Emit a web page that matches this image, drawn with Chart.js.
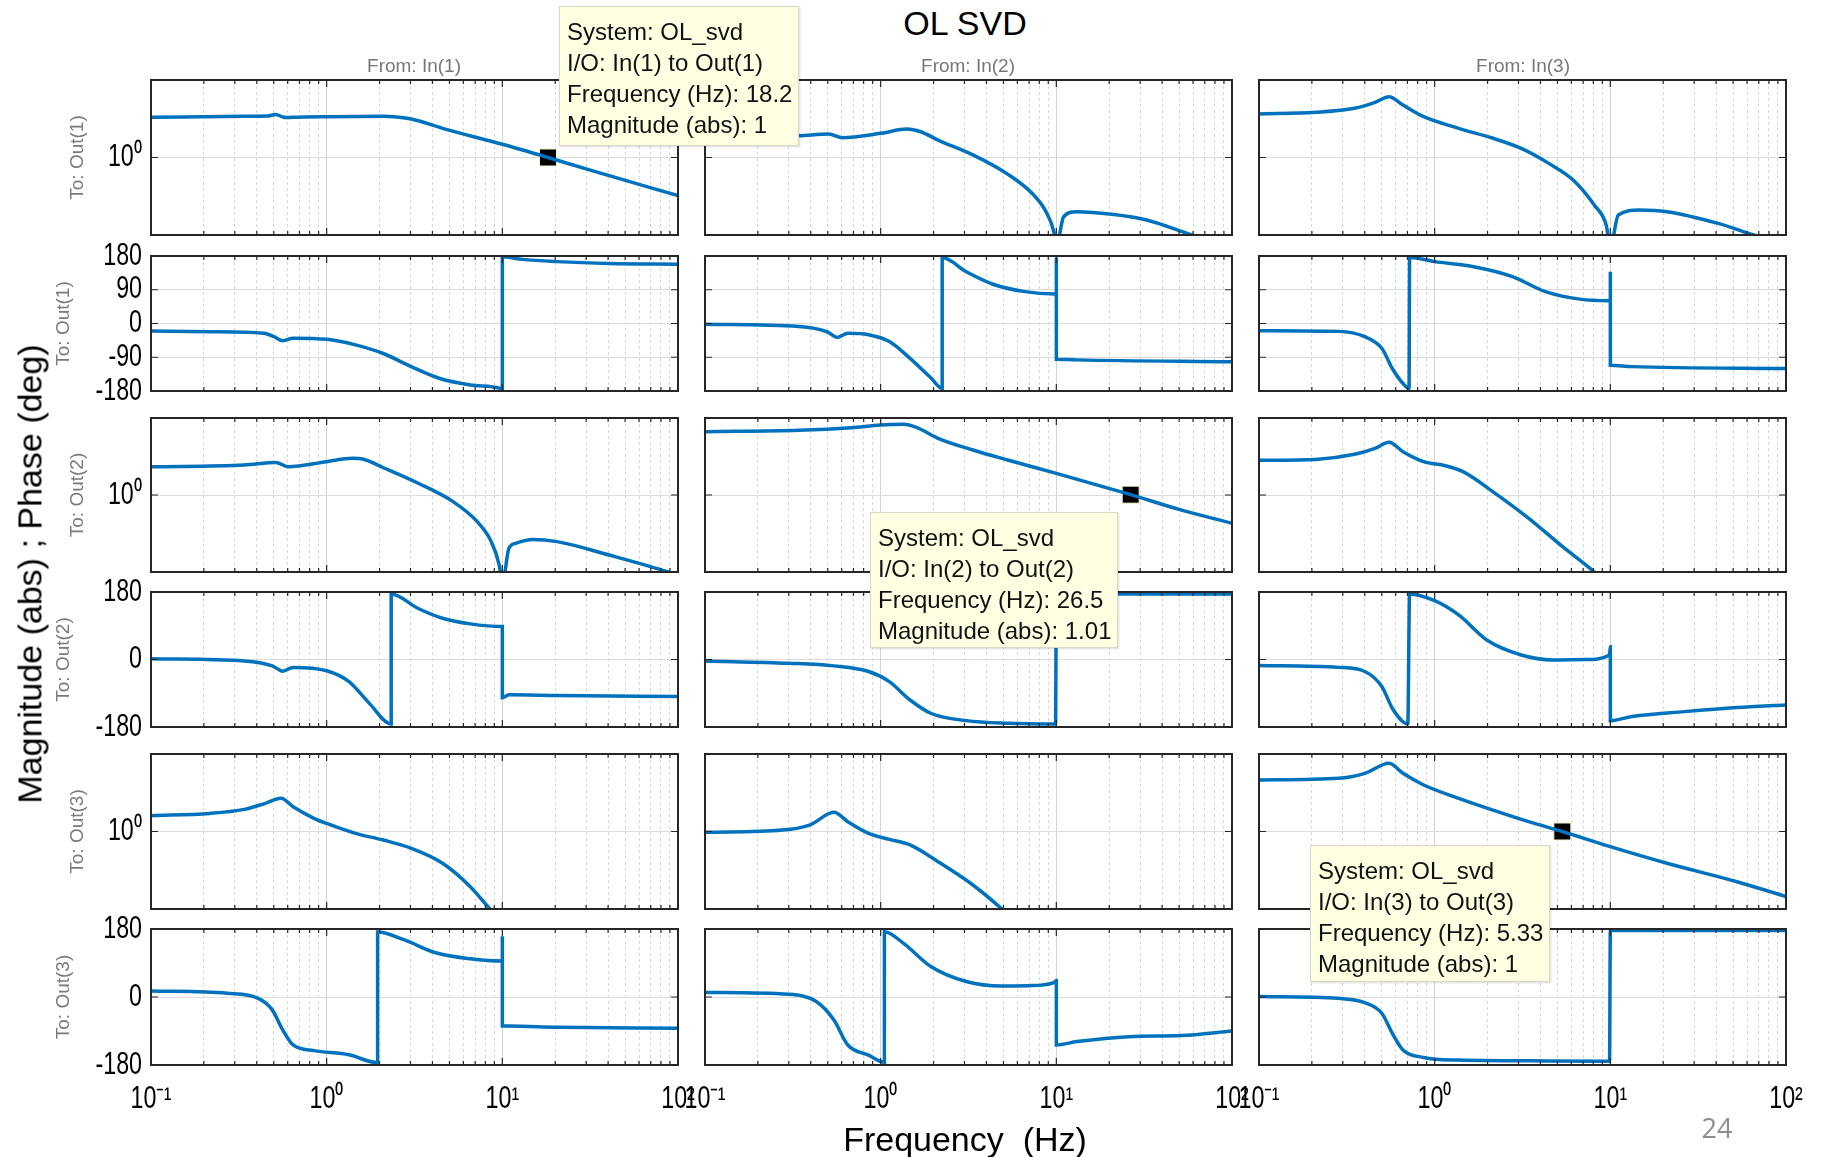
<!DOCTYPE html>
<html>
<head>
<meta charset="utf-8">
<script src="https://cdn.jsdelivr.net/npm/chart.js@4.4.1/dist/chart.umd.min.js"></script>
<style>
  body { margin: 0; background: #fff; }
  #fig { position: relative; width: 1826px; height: 1157px; overflow: hidden; background: #fff;
         font-family: 'Liberation Sans', Arial, sans-serif; }
  #fig canvas { position: absolute; }
  .txt { position: absolute; white-space: nowrap; transform: translate(-50%, -50%); z-index: 2; }
  .tip { position: absolute; z-index: 3; background: #ffffe1; border: 1px solid #d8d8c8;
         box-shadow: 1px 1px 2px rgba(0,0,0,0.15); font-size: 24px; line-height: 31px;
         padding: 9px 0 0 7px; box-sizing: border-box; color: #111; }
</style>
</head>
<body>
<div id="fig">
  <div class="txt" style="left:965px;top:23px;font-size:34px;">OL SVD</div>
  <div class="txt" style="left:414px;top:66px;font-size:19px;color:#777;">From: In(1)</div>
  <div class="txt" style="left:968px;top:66px;font-size:19px;color:#777;">From: In(2)</div>
  <div class="txt" style="left:1523px;top:66px;font-size:19px;color:#777;">From: In(3)</div>
  <div class="txt" style="left:30px;top:574px;font-size:34px;transform:translate(-50%,-50%) rotate(-90deg);">Magnitude (abs) ; Phase (deg)</div>
  <div class="txt" style="left:965px;top:1139px;font-size:34px;">Frequency&nbsp; (Hz)</div>
  <div class="txt" style="left:1717px;top:1127px;font-size:27px;color:#8c8c8c;font-family:'Open Sans',sans-serif;">24</div>
</div>
<script>
// frecuencias (Hz) y valores: mXY = magnitud Out(X)/In(Y), pXY = fase (grados)
const f11m = [0.1, 0.34, 0.46, 0.513, 0.56, 0.59, 0.64, 1, 2.1, 2.5, 3.03, 4.78, 10, 18.2, 32.4, 100];
const m11  = [3.30, 3.40, 3.42, 3.60, 3.35, 3.27, 3.30, 3.36, 3.40, 3.33, 3.14, 2.31, 1.48, 1.00, 0.676, 0.322];
const f11p = [0.1, 0.216, 0.437, 0.501, 0.562, 0.644, 1, 1.46, 2.1, 3.03, 4.36, 6.57, 9.7, 10, 10, 13, 20.5, 40.6, 100];
const p11  = [-20, -22, -26, -35, -46, -39, -42, -57, -80, -115, -146, -164, -173, -176, 178, 171, 165, 160, 158];

const f12m = [0.1, 0.343, 0.506, 0.606, 1, 1.41, 1.69, 2.12, 3.35, 5.28, 7.27, 8.73, 9.68, 10, 11, 13.1, 20.7, 32.7, 59.1, 100];
const m12  = [1.82, 1.91, 2.01, 1.80, 2.05, 2.33, 2.15, 1.68, 1.08, 0.61, 0.345, 0.20, 0.11, 0.07, 0.172, 0.20, 0.185, 0.156, 0.10, 0.07];
const f12p = [0.1, 0.343, 0.495, 0.567, 0.65, 0.854, 1.12, 1.47, 1.94, 2.24, 2.24, 3.07, 4.4, 6.64, 9.77, 10, 10, 10, 13.1, 100];
const p12  = [-2, -8, -22, -37, -26, -30, -48, -93, -146, -173, 176, 138, 104, 85, 79, 79, 176, -95, -97, -102];

const f13m = [0.1, 0.21, 0.35, 0.458, 0.55, 0.66, 0.866, 1.37, 2.15, 3.11, 4.46, 6.14, 8.1, 9.47, 10, 11.1, 14.6, 21, 41.6, 65.5, 100];
const m13  = [3.64, 3.83, 4.31, 5.15, 6.10, 4.75, 3.36, 2.38, 1.77, 1.31, 0.84, 0.513, 0.244, 0.135, 0.07, 0.181, 0.21, 0.20, 0.14, 0.10, 0.075];
const f13p = [0.1, 0.284, 0.4, 0.5, 0.574, 0.66, 0.715, 0.72, 1, 1.64, 2.77, 4.27, 6.7, 9.68, 10, 10, 10, 13.3, 100];
const p13  = [-19, -21, -35, -66, -120, -160, -173, 176, 165, 152, 125, 85, 65, 61, 61, 138, -111, -115, -120];

const f21m = [0.1, 0.34, 0.513, 0.601, 1, 1.4, 1.6, 2.1, 3.32, 5.24, 7.2, 8.65, 9.6, 10, 10.9, 11.9, 14.9, 20.5, 40.6, 88, 100];
const m21  = [2.33, 2.45, 2.65, 2.33, 2.71, 2.99, 2.93, 2.26, 1.42, 0.82, 0.45, 0.248, 0.123, 0.07, 0.203, 0.236, 0.265, 0.248, 0.166, 0.10, 0.09];
const f21p = [0.1, 0.34, 0.49, 0.562, 0.644, 1, 1.34, 1.75, 2.33, 2.33, 3.32, 4.57, 6.57, 10, 10, 10.9, 20.5, 100];
const p21  = [2, -4, -17, -31, -21, -30, -59, -117, -172, 175, 136, 110, 95, 88, -102, -94, -96, -99];

const f22m = [0.1, 0.343, 0.68, 1, 1.35, 1.61, 2.12, 3.35, 5.28, 10, 26.5, 51, 100];
const m22  = [6.64, 6.92, 7.48, 8.11, 8.27, 7.48, 5.45, 3.84, 2.85, 1.91, 1.01, 0.64, 0.43];
const f22p = [0.1, 0.3, 0.542, 0.854, 1.12, 1.47, 1.94, 3.07, 5.28, 9.9, 10, 20, 100];
const p22  = [-4, -10, -17, -32, -59, -108, -144, -163, -170, -172, 176, 175, 175];

const f23m = [0.1, 0.21, 0.35, 0.458, 0.55, 0.66, 0.866, 1.15, 1.45, 2.15, 3.43, 5.35, 8.1, 9];
const m23  = [2.82, 2.90, 3.38, 4.04, 4.83, 3.65, 2.71, 2.40, 2.01, 1.10, 0.498, 0.213, 0.10, 0.08];
const f23p = [0.1, 0.284, 0.4, 0.5, 0.574, 0.66, 0.703, 0.72, 1, 1.37, 1.98, 3.11, 4.7, 7.2, 9.9, 10, 10, 13.3, 26.4, 52.5, 100];
const p23  = [-16, -21, -32, -72, -130, -166, -172, 175, 157, 119, 52, 12, -1, 0, 12, 34, -163, -152, -139, -128, -121];

const f31m = [0.1, 0.216, 0.34, 0.448, 0.55, 0.644, 0.847, 1, 1.46, 2.1, 3.03, 4.57, 6.57, 8.45, 10];
const m31  = [1.60, 1.71, 1.93, 2.31, 2.68, 2.09, 1.48, 1.27, 0.946, 0.776, 0.607, 0.389, 0.194, 0.102, 0.07];
const f31p = [0.1, 0.271, 0.408, 0.49, 0.562, 0.644, 0.847, 1.34, 1.95, 1.95, 2.77, 4.17, 6.57, 10, 10, 10, 10.9, 20.5, 100];
const p31  = [16, 10, -3.5, -34, -87, -127, -142, -153, -174, 172, 151, 117, 101, 95, 161, -77, -77, -80, -83];

const f32m = [0.1, 0.276, 0.394, 0.542, 0.65, 0.854, 1.12, 1.47, 2.12, 3.35, 4.85, 5.6];
const m32  = [0.975, 1.045, 1.21, 1.77, 1.34, 0.946, 0.792, 0.67, 0.408, 0.204, 0.102, 0.075];
const f32p = [0.1, 0.3, 0.43, 0.542, 0.65, 0.854, 1.05, 1.05, 1.35, 1.94, 3.07, 4.85, 6.95, 9.77, 10, 10, 13.1, 26, 51.5, 100];
const p32  = [12, 7, -12, -61, -127, -154, -173, 173, 142, 80, 41, 29, 30, 39, 44, -127, -118, -105, -102, -90];

const f33m = [0.1, 0.284, 0.4, 0.55, 0.66, 0.866, 1.37, 2.15, 3.43, 5.33, 10, 21, 52.5, 100];
const m33  = [4.62, 4.85, 5.63, 7.58, 5.63, 3.98, 2.68, 1.89, 1.34, 1.00, 0.637, 0.389, 0.225, 0.145];
const f33p = [0.1, 0.284, 0.4, 0.5, 0.574, 0.66, 0.866, 1.37, 3.43, 9.9, 10, 100];
const p33  = [1, -3.5, -15, -43, -96, -140, -160, -167, -169, -170, 176, 176];

// marcas de los ejes
const xTickVals = [0.1, 0.2, 0.3, 0.4, 0.5, 0.6, 0.7, 0.8, 0.9, 1, 2, 3, 4, 5, 6, 7, 8, 9,
                   10, 20, 30, 40, 50, 60, 70, 80, 90, 100];
const xDecadeLabels = { 0.1: '10⁻¹', 1: '10⁰', 10: '10¹', 100: '10²' };
const magTicks = [1];
const phaseTicksFull = [-180, -90, 0, 90, 180];
const phaseTicksShort = [-180, 0, 180];

// datatips (salida, entrada, frecuencia, magnitud)
const tipOut = [1, 2, 3];
const tipIn = [1, 2, 3];
const tipFreq = [18.2, 26.5, 5.33];
const tipMag = [1, 1.01, 1];

const magF = [[f11m, f12m, f13m], [f21m, f22m, f23m], [f31m, f32m, f33m]];
const magV = [[m11, m12, m13], [m21, m22, m23], [m31, m32, m33]];
const phF  = [[f11p, f12p, f13p], [f21p, f22p, f23p], [f31p, f32p, f33p]];
const phV  = [[p11, p12, p13], [p21, p22, p23], [p31, p32, p33]];

// geometria
const colX = [151, 705, 1259];
const PW = 527;
const rowBox = [[80, 155], [256, 135], [418, 154], [592, 135], [754, 155], [929, 136]];
const ML = 110, MR = 50, MT = 30;
const AZUL = '#0072BD';
const TICK_PX = 31;
const narrow = "'Liberation Sans Narrow', 'Liberation Sans', Arial, sans-serif";

Chart.defaults.font.family = "'Liberation Sans', Arial, sans-serif";

const isDecade = v => [0.1, 1, 10, 100].includes(v);

// caja negra y marcas interiores estilo MATLAB
const framePlugin = {
    id: 'frame',
    afterDatasetsDraw(chart) {
        const { ctx, chartArea: a, scales: { x, y } } = chart;
        ctx.save();
        ctx.strokeStyle = '#262626';
        ctx.lineWidth = 1.2;
        ctx.beginPath();
        x.ticks.forEach(t => {
            const px = x.getPixelForValue(t.value);
            const len = isDecade(t.value) ? 7 : 4;
            ctx.moveTo(px, a.top); ctx.lineTo(px, a.top + len);
            ctx.moveTo(px, a.bottom); ctx.lineTo(px, a.bottom - len);
        });
        y.ticks.forEach(t => {
            const py = y.getPixelForValue(t.value);
            ctx.moveTo(a.left, py); ctx.lineTo(a.left + 7, py);
            ctx.moveTo(a.right, py); ctx.lineTo(a.right - 7, py);
        });
        ctx.stroke();
        ctx.lineWidth = 2;
        ctx.strokeRect(a.left, a.top, a.right - a.left, a.bottom - a.top);
        ctx.restore();
    }
};

// los numeros de los ejes de la figura original son estrechos: se comprimen en horizontal
const ticksEstrechos = {
    id: 'ticksEstrechos',
    beforeDraw(chart) {
        const ctx = chart.ctx;
        if (ctx._fillOrig) return;
        const orig = ctx.fillText;
        ctx._fillOrig = orig;
        ctx.fillText = function (text, x, y, maxWidth) {
            if (this.font.indexOf(TICK_PX + 'px') === -1) {
                return orig.call(this, text, x, y, maxWidth);
            }
            this.save();
            this.translate(x, y);
            this.scale(0.75, 1);
            orig.call(this, text, 0, 0);
            this.restore();
        };
    }
};

const fig = document.getElementById('fig');

function crearPanel(row, col) {
    const out = Math.floor(row / 2);
    const esMag = row % 2 === 0;
    const ultima = row === 5;
    const MB = ultima ? 80 : 30;
    const [top, h] = rowBox[row];
    const w = PW + ML + MR, hh = h + MT + MB;

    const cv = document.createElement('canvas');
    cv.width = w; cv.height = hh;
    cv.style.left = (colX[col] - ML) + 'px';
    cv.style.top = (top - MT) + 'px';
    cv.style.width = w + 'px';
    cv.style.height = hh + 'px';
    fig.appendChild(cv);

    const fArr = esMag ? magF[out][col] : phF[out][col];
    const vArr = esMag ? magV[out][col] : phV[out][col];

    const datasets = [{
        data: fArr.map((f, i) => ({ x: f, y: vArr[i] })),
        borderColor: AZUL,
        borderWidth: 3.5,
        pointRadius: 0,
        cubicInterpolationMode: 'monotone',
        fill: false
    }];

    tipOut.forEach((o, k) => {
        if (esMag && o === out + 1 && tipIn[k] === col + 1) {
            datasets.push({
                data: [{ x: tipFreq[k], y: tipMag[k] }],
                showLine: false,
                pointStyle: 'rect',
                pointRadius: 12,
                backgroundColor: '#000',
                borderColor: '#f4f1c8',
                borderWidth: 1
            });
        }
    });

    const yTicks = esMag ? magTicks : (row === 1 ? phaseTicksFull : phaseTicksShort);

    const yScale = {
        type: esMag ? 'logarithmic' : 'linear',
        min: esMag ? 0.1 : -180,
        max: esMag ? 10 : 180,
        afterBuildTicks: s => { s.ticks = yTicks.map(v => ({ value: v })); },
        afterFit: s => { s.width = ML; },
        ticks: {
            display: col === 0,
            autoSkip: false,
            padding: 9,
            color: '#000',
            font: { size: TICK_PX, family: narrow },
            callback: v => esMag ? '10⁰' : String(v)
        },
        grid: { drawTicks: false, color: '#dcdcdc', lineWidth: 1 },
        border: { display: false },
        title: {
            display: col === 0,
            text: 'To: Out(' + (out + 1) + ')',
            color: '#7a7a7a',
            font: { size: 19 },
            padding: { top: esMag ? 25 : 11, bottom: 0 }
        }
    };

    new Chart(cv, {
        type: 'line',
        data: { datasets },
        options: {
            responsive: false,
            animation: false,
            devicePixelRatio: 1,
            layout: { padding: { left: 0, right: MR, top: MT, bottom: ultima ? 0 : MB } },
            plugins: { legend: { display: false }, tooltip: { enabled: false } },
            scales: {
                x: {
                    type: 'logarithmic',
                    min: 0.1,
                    max: 100,
                    afterBuildTicks: s => { s.ticks = xTickVals.map(v => ({ value: v })); },
                    afterFit: s => { s.height = ultima ? MB : 0; },
                    ticks: {
                        display: ultima,
                        autoSkip: false,
                        maxRotation: 0,
                        padding: 16,
                        color: '#000',
                        font: { size: TICK_PX, family: narrow },
                        callback: v => xDecadeLabels[v] || ''
                    },
                    grid: {
                        drawTicks: false,
                        color: ctx => ctx.tick && isDecade(ctx.tick.value) ? '#d4d4d4' : '#d8d8d8',
                        lineWidth: 1
                    },
                    border: {
                        display: false,
                        dash: ctx => (ctx.tick && !isDecade(ctx.tick.value)) ? [3, 3] : []
                    }
                },
                y: yScale
            }
        },
        plugins: [ticksEstrechos, framePlugin]
    });
}

for (let r = 0; r < 6; r++) {
    for (let c = 0; c < 3; c++) crearPanel(r, c);
}

// cuadros de datatip
const tipBox = [[559, 6, 240, 140], [870, 512, 248, 136], [1310, 845, 240, 137]];
tipFreq.forEach((f, k) => {
    const d = document.createElement('div');
    d.className = 'tip';
    const [l, t, w, h] = tipBox[k];
    d.style.cssText = `left:${l}px;top:${t}px;width:${w}px;height:${h}px;`;
    d.innerHTML = 'System: OL_svd<br>I/O: In(' + tipIn[k] + ') to Out(' + tipOut[k] + ')<br>' +
        'Frequency (Hz): ' + f + '<br>Magnitude (abs): ' + tipMag[k];
    fig.appendChild(d);
});
</script>
</body>
</html>
